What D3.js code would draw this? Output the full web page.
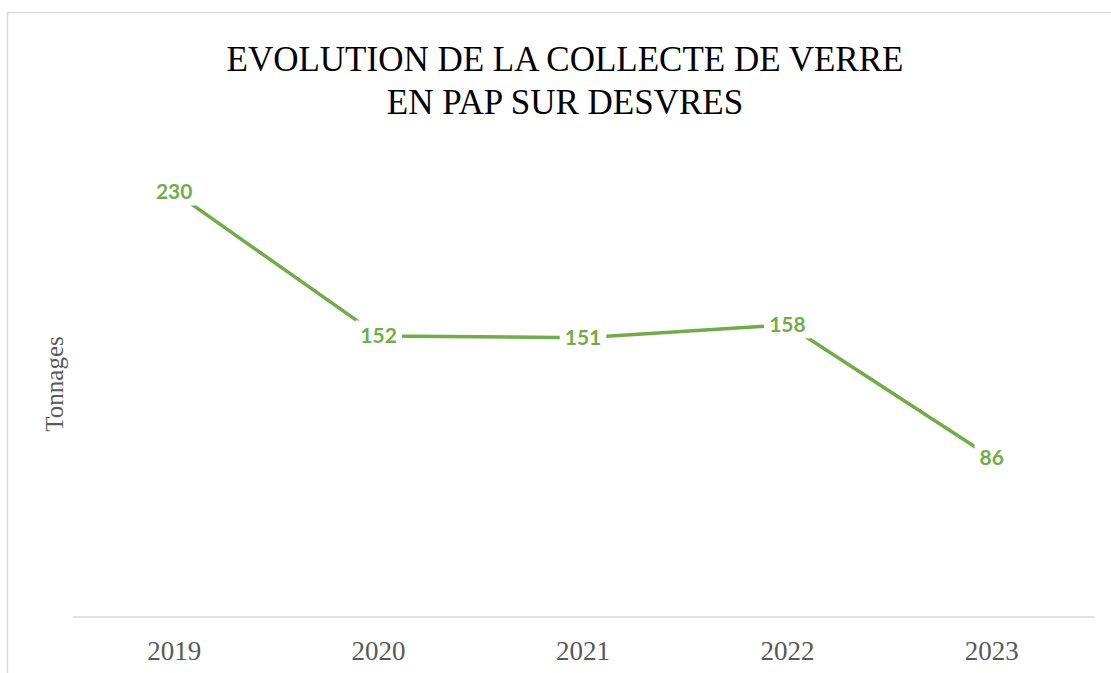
<!DOCTYPE html>
<html>
<head>
<meta charset="utf-8">
<script src="https://cdn.jsdelivr.net/npm/d3@7"></script>
<style>
  body { margin: 0; background: #fff; }
  svg { display: block; }
</style>
</head>
<body>
<svg id="chart" width="1111" height="673"></svg>
<script>
// chart data
var years = ["2019", "2020", "2021", "2022", "2023"];
var tonnages = [230, 152, 151, 158, 86];
var titleLines = ["EVOLUTION DE LA COLLECTE DE VERRE", "EN PAP SUR DESVRES"];
var yLabel = "Tonnages";

const GREEN = "#70ad47";
const GREY = "#595959";

var svg = d3.select("#chart");

// chart frame (runs off the right / bottom of the picture)
svg.append("rect")
  .attr("x", 7.5)
  .attr("y", 12.5)
  .attr("width", 1200)
  .attr("height", 800)
  .attr("fill", "#fff")
  .attr("stroke", "#d9d9d9")
  .attr("stroke-width", 1.5);

// title
svg.append("text")
  .attr("x", 565)
  .attr("y", 71)
  .attr("text-anchor", "middle")
  .style("font-family", "'Liberation Serif', serif")
  .style("font-size", "35px")
  .attr("fill", "#000")
  .selectAll("tspan")
  .data(titleLines)
  .enter()
  .append("tspan")
  .attr("x", 565)
  .attr("dy", (d, i) => (i === 0 ? 0 : 43))
  .text((d) => d);

var x = d3.scaleBand().domain(years).range([72, 1094]);
var y = d3.scaleLinear().domain([0, 250]).range([616.5, 155]);

// category axis
var xAxis = svg.append("g")
  .attr("transform", "translate(0,616.5)")
  .call(d3.axisBottom(x).tickSize(0).tickPadding(24));
xAxis.select(".domain").attr("stroke", "#d9d9d9").attr("stroke-width", 1.5);
xAxis.selectAll("text")
  .attr("fill", GREY)
  .style("font-family", "'Liberation Serif', serif")
  .style("font-size", "27px");

// y axis title
svg.append("text")
  .attr("transform", "translate(63,384) rotate(-90)")
  .attr("text-anchor", "middle")
  .attr("fill", GREY)
  .style("font-family", "'Liberation Serif', serif")
  .style("font-size", "25px")
  .text(yLabel);

var pts = years.map((yr, i) => ({ year: yr, value: tonnages[i] }));

var line = d3.line()
  .x((d) => x(d.year) + x.bandwidth() / 2)
  .y((d) => y(d.value));

svg.append("path")
  .datum(pts)
  .attr("d", line)
  .attr("fill", "none")
  .attr("stroke", GREEN)
  .attr("stroke-width", 3.5)
  .attr("stroke-linejoin", "round");

// data labels, centred on points with a white backing
var lbl = svg.append("g").selectAll("g")
  .data(pts)
  .enter()
  .append("g")
  .attr("transform", (d) => `translate(${x(d.year) + x.bandwidth() / 2},${y(d.value)})`);

lbl.append("text")
  .attr("text-anchor", "middle")
  .attr("dy", "0.36em")
  .attr("fill", GREEN)
  .style("font-family", "Lato, sans-serif")
  .style("font-weight", "bold")
  .style("font-size", "21px")
  .text((d) => d.value);

lbl.each(function () {
  var g = d3.select(this);
  var bb = g.select("text").node().getBBox();
  g.insert("rect", "text")
    .attr("x", bb.x - 5)
    .attr("y", bb.y - 2)
    .attr("width", bb.width + 10)
    .attr("height", bb.height + 4)
    .attr("fill", "#fff");
});
</script>
</body>
</html>
